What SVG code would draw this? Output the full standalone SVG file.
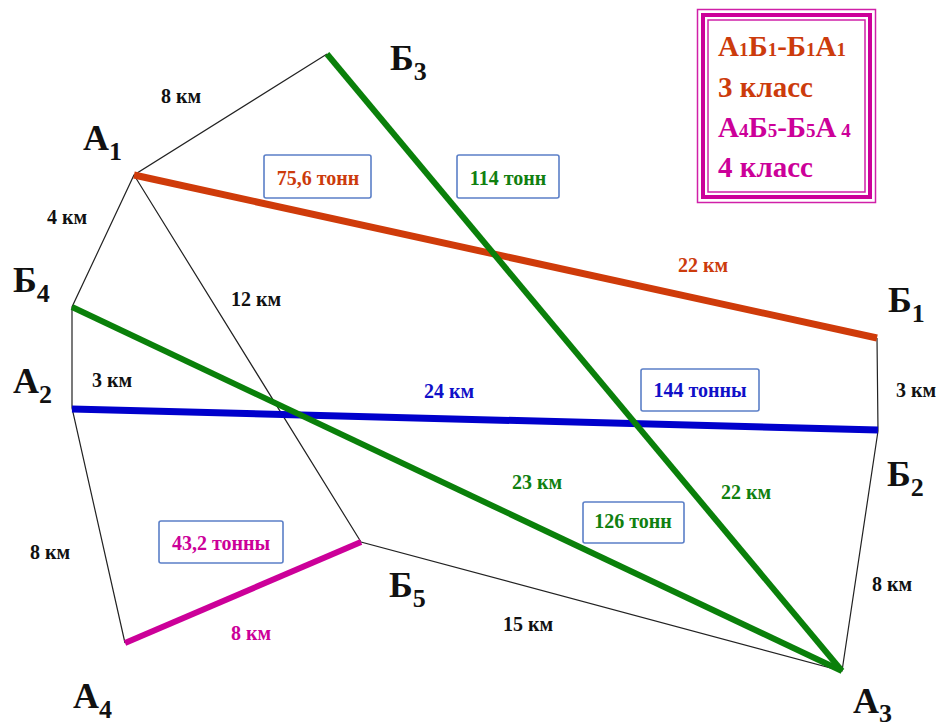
<svg xmlns="http://www.w3.org/2000/svg" width="939" height="728" viewBox="0 0 939 728">
<style>
text{font-family:"Liberation Serif","Times New Roman",serif;font-weight:bold}
.node{font-size:36px;fill:#111}
.sub{font-size:26px}
.km{font-size:20px;fill:#111}
.thin{stroke:#222;stroke-width:1.2;fill:none}
.box{fill:#fff;stroke:#5b7fc7;stroke-width:1.6}
.t{font-size:20px;text-anchor:middle}
.leg{font-size:29px}
.ls{font-size:19px}
.red{fill:#cc3b0c}
.grn{fill:#108010}
.blu{fill:#1010c8}
.mag{fill:#cc0099}
</style>
<rect width="939" height="728" fill="#fff"/>
<g id="connectors">
  <polyline class="thin" points="327,54 134,175 72,307 72,408 125,643"/>
  <polyline class="thin" points="134,175 361,542 842,671 878,431 877,338"/>
  <line x1="134" y1="175" x2="877" y2="338" stroke="#cf3b0a" stroke-width="7"/>
  <line x1="72" y1="409" x2="878" y2="430" stroke="#0000cc" stroke-width="7"/>
  <line x1="72" y1="307" x2="842" y2="671" stroke="#0a800a" stroke-width="6"/>
  <line x1="327" y1="54" x2="842" y2="671" stroke="#0a800a" stroke-width="6"/>
  <line x1="125" y1="643" x2="361" y2="542" stroke="#cc0099" stroke-width="6"/>
</g>
<g id="distances">
  <text class="km" x="161" y="103">8 км</text>
  <text class="km" x="47" y="224">4 км</text>
  <text class="km" x="231" y="306">12 км</text>
  <text class="km" x="92" y="387">3 км</text>
  <text class="km" x="30" y="559">8 км</text>
  <text class="km" x="503" y="631">15 км</text>
  <text class="km" x="872" y="591">8 км</text>
  <text class="km" x="896" y="397">3 км</text>
  <text class="km red" x="678" y="272">22 км</text>
  <text class="km blu" x="424" y="398">24 км</text>
  <text class="km grn" x="512" y="489">23 км</text>
  <text class="km grn" x="721" y="499">22 км</text>
  <text class="km mag" x="231" y="640">8 км</text>
</g>
<g id="loads">
  <rect class="box" x="264" y="155" width="107" height="43" rx="2"/>
  <text class="t red" x="318" y="185">75,6 тонн</text>
  <rect class="box" x="457" y="155" width="102" height="43" rx="2"/>
  <text class="t grn" x="508" y="185">114 тонн</text>
  <rect class="box" x="641" y="369" width="118" height="42" rx="2"/>
  <text class="t blu" x="700" y="397">144 тонны</text>
  <rect class="box" x="583" y="502" width="101" height="41" rx="2"/>
  <text class="t grn" x="633" y="528">126 тонн</text>
  <rect class="box" x="159" y="521" width="124" height="42" rx="2"/>
  <text class="t mag" x="221" y="550">43,2 тонны</text>
</g>
<g id="node-A1"><text class="node" x="83" y="150">А<tspan class="sub" dy="10">1</tspan></text></g>
<g id="node-B3"><text class="node" x="390" y="70">Б<tspan class="sub" dy="10">3</tspan></text></g>
<g id="node-B4"><text class="node" x="13" y="292">Б<tspan class="sub" dy="10">4</tspan></text></g>
<g id="node-A2"><text class="node" x="13" y="393">А<tspan class="sub" dy="10">2</tspan></text></g>
<g id="node-A4"><text class="node" x="73" y="708">А<tspan class="sub" dy="10">4</tspan></text></g>
<g id="node-B5"><text class="node" x="389" y="597">Б<tspan class="sub" dy="10">5</tspan></text></g>
<g id="node-A3"><text class="node" x="853" y="713">А<tspan class="sub" dy="9">3</tspan></text></g>
<g id="node-B2"><text class="node" x="887" y="486">Б<tspan class="sub" dy="10">2</tspan></text></g>
<g id="node-B1"><text class="node" x="888" y="312">Б<tspan class="sub" dy="10">1</tspan></text></g>
<g id="legend">
  <rect x="697.5" y="9.5" width="178" height="193" fill="#fff" stroke="#d020a8" stroke-width="1.5"/>
  <rect x="703" y="15" width="167" height="182" fill="none" stroke="#cc0099" stroke-width="4"/>
  <rect x="708" y="20" width="157" height="172" fill="none" stroke="#d020a8" stroke-width="1.5"/>
  <text class="leg red" x="718" y="56">А<tspan class="ls">1</tspan>Б<tspan class="ls">1</tspan>-Б<tspan class="ls">1</tspan>А<tspan class="ls">1</tspan></text>
  <text class="leg red" x="718" y="97">3 класс</text>
  <text class="leg mag" x="718" y="137">А<tspan class="ls">4</tspan>Б<tspan class="ls">5</tspan>-Б<tspan class="ls">5</tspan>А<tspan class="ls"> 4</tspan></text>
  <text class="leg mag" x="718" y="177">4 класс</text>
</g>
</svg>
